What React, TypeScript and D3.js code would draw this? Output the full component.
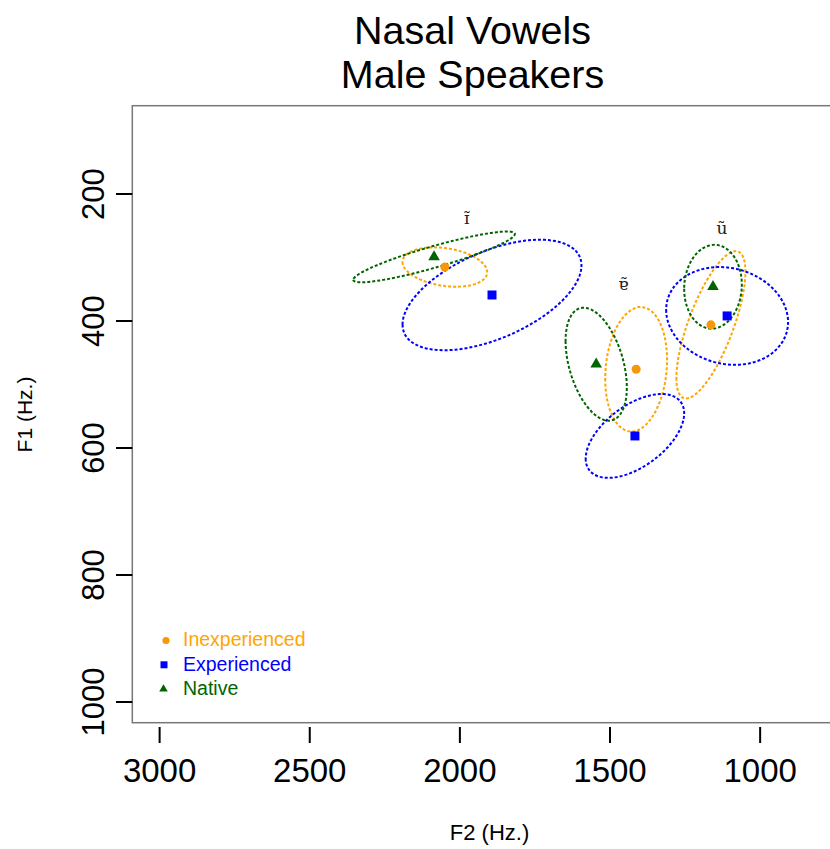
import React from "react";
import * as d3 from "d3";

// ---- data (Hz) ----
const vowels = ["ɪ̃", "ɐ̃", "ũ"];
const groups = ["Inexperienced", "Experienced", "Native"];
const groupColors = ["#FFA500", "#0000FF", "#006400"];
const pointColors = ["#F7980C", "#0000FF", "#006400"];
const groupShapes = ["circle", "square", "triangle"];

// mean F2 / F1 per group, per vowel (ĩ, ɐ̃, ũ)
const meanF2 = [
  [2050, 1413, 1164],
  [1893, 1417, 1110],
  [2086, 1546, 1157],
];
const meanF1 = [
  [315, 476, 406],
  [359, 581, 392],
  [299, 468, 346],
];
// ellipse half-extents (Hz) and correlation
const ellF2 = [
  [141, 103, 115],
  [298, 164, 203],
  [269, 102, 96],
];
const ellF1 = [
  [31, 98, 116],
  [87, 66, 77],
  [40, 89, 66],
];
const ellRho = [
  [-0.26, 0.15, 0.72],
  [0.535, 0.54, -0.125],
  [0.9, -0.41, 0.05],
];
const labelF2 = [1977, 1456, 1127];
const labelF1 = [238, 342, 254];

const xTicks = [3000, 2500, 2000, 1500, 1000];
const yTicks = [200, 400, 600, 800, 1000];

const W = 830;
const H = 849;
const plot = { left: 132.3, right: 831, top: 105.7, bottom: 722.7 };

export default function App() {
  const x = d3.scaleLinear().domain([3091, 764]).range([plot.left, plot.right]);
  const y = d3.scaleLinear().domain([60.9, 1032.6]).range([plot.top, plot.bottom]);

  const line = d3.line<[number, number]>().x((d) => x(d[0])).y((d) => y(d[1]));
  const ts = d3.range(0, 361, 3).map((t) => (t * Math.PI) / 180);

  const ellipsePath = (g: number, v: number) => {
    const d = Math.acos(ellRho[g][v]);
    const pts: [number, number][] = ts.map((t) => [
      meanF2[g][v] + ellF2[g][v] * Math.cos(t),
      meanF1[g][v] + ellF1[g][v] * Math.cos(t - d),
    ]);
    return line(pts) as string;
  };

  const symType = (s: string) =>
    s === "circle" ? d3.symbolCircle : s === "square" ? d3.symbolSquare : d3.symbolTriangle;
  const bigSize = [64, 81, 58];
  const smallSize = [40, 49, 32];

  const font = "Liberation Sans, Arial, Helvetica, sans-serif";

  return (
    <div style={{ position: "absolute", left: 0, top: 0 }}>
      <svg width={W} height={H} style={{ display: "block", background: "#fff" }}>
        {/* title */}
        <text x={472.5} y={43.5} textAnchor="middle" fontFamily={font} fontSize={39.5} fill="#000">
          Nasal Vowels
        </text>
        <text x={472.5} y={87.5} textAnchor="middle" fontFamily={font} fontSize={39.5} fill="#000">
          Male Speakers
        </text>

        <defs>
          <clipPath id="plotclip">
            <rect x={plot.left} y={plot.top} width={plot.right - plot.left} height={plot.bottom - plot.top} />
          </clipPath>
        </defs>

        {/* ellipses */}
        <g clipPath="url(#plotclip)">
          {groups.map((_, g) =>
            vowels.map((__, v) => (
              <path
                key={`e${g}-${v}`}
                d={ellipsePath(g, v)}
                fill="none"
                stroke={groupColors[g]}
                strokeWidth={2}
                strokeDasharray="3,2"
              />
            ))
          )}
          {groups.map((_, g) =>
            vowels.map((__, v) => (
              <path
                key={`p${g}-${v}`}
                d={d3.symbol().type(symType(groupShapes[g])).size(bigSize[g])() as string}
                transform={`translate(${x(meanF2[g][v])},${y(meanF1[g][v])})`}
                fill={pointColors[g]}
              />
            ))
          )}
          {vowels.map((vw, v) => (
            <text
              key={`l${v}`}
              x={x(labelF2[v])}
              y={y(labelF1[v])}
              dy="0.35em"
              textAnchor="middle"
              fontFamily="DejaVu Serif, serif"
              fontSize={17}
              fill="#222"
            >
              {vw}
            </text>
          ))}
        </g>

        {/* frame */}
        <rect
          x={plot.left}
          y={plot.top}
          width={plot.right - plot.left}
          height={plot.bottom - plot.top}
          fill="none"
          stroke="#777"
          strokeWidth={1.5}
        />

        {/* x axis */}
        {xTicks.map((t) => (
          <g key={`xt${t}`}>
            <line x1={x(t)} x2={x(t)} y1={727} y2={743} stroke="#000" strokeWidth={2} />
            <text x={x(t)} y={782} textAnchor="middle" fontFamily={font} fontSize={33} fill="#000">
              {t}
            </text>
          </g>
        ))}
        {/* y axis */}
        {yTicks.map((t) => (
          <g key={`yt${t}`}>
            <line x1={116} x2={plot.left} y1={y(t)} y2={y(t)} stroke="#000" strokeWidth={2} />
            <text
              transform={`translate(${104},${y(t)}) rotate(-90)`}
              textAnchor="middle"
              fontFamily={font}
              fontSize={31}
              fill="#000"
            >
              {t}
            </text>
          </g>
        ))}

        {/* axis titles */}
        <text x={489.5} y={840} textAnchor="middle" fontFamily={font} fontSize={22} fill="#000">
          F2 (Hz.)
        </text>
        <text
          transform={`translate(32,414.5) rotate(-90)`}
          textAnchor="middle"
          fontFamily={font}
          fontSize={21}
          fill="#000"
        >
          F1 (Hz.)
        </text>

        {/* legend */}
        {groups.map((gname, g) => (
          <g key={`lg${g}`}>
            <path
              d={d3.symbol().type(symType(groupShapes[g])).size(smallSize[g])() as string}
              transform={`translate(${[166, 164, 163.5][g]},${640.5 + g * 24.3})`}
              fill={pointColors[g]}
            />
            <text x={183} y={646 + g * 24.5} fontFamily={font} fontSize={19.5} fill={groupColors[g]}>
              {gname}
            </text>
          </g>
        ))}
      </svg>
    </div>
  );
}
